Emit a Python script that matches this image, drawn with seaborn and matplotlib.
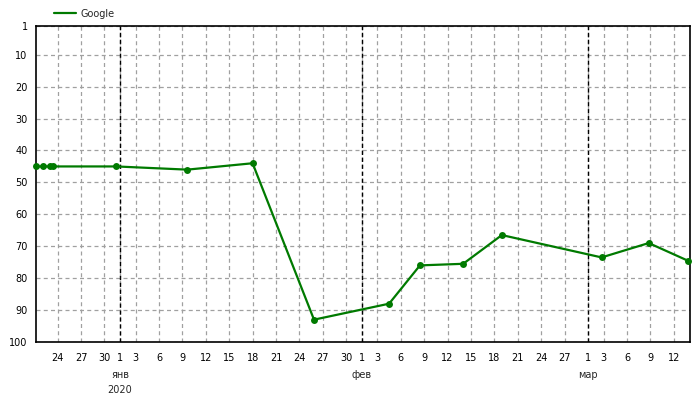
import pandas as pd
import numpy as np
import matplotlib
matplotlib.use('Agg')
import matplotlib.pyplot as plt
import seaborn as sns

# data (rank positions, lower is better)
dates = ['2019-12-21 06:00', '2019-12-22 02:00', '2019-12-23 00:00', '2019-12-23 09:00',
         '2019-12-31 12:00', '2020-01-09 15:00', '2020-01-18 00:00', '2020-01-25 21:00',
         '2020-02-04 12:00', '2020-02-08 11:00', '2020-02-14 00:00', '2020-02-18 23:00',
         '2020-03-02 18:00', '2020-03-08 19:00', '2020-03-13 19:00']
positions = [45, 45, 45, 45, 45, 46, 44, 93, 88, 76, 75.5, 66.5, 73.5, 69, 74.5]
series_name = 'Google'

tick_dates = ['2019-12-24', '2019-12-27', '2019-12-30', '2020-01-01', '2020-01-03', '2020-01-06',
              '2020-01-09', '2020-01-12', '2020-01-15', '2020-01-18', '2020-01-21', '2020-01-24',
              '2020-01-27', '2020-01-30', '2020-02-01', '2020-02-03', '2020-02-06', '2020-02-09',
              '2020-02-12', '2020-02-15', '2020-02-18', '2020-02-21', '2020-02-24', '2020-02-27',
              '2020-03-01', '2020-03-03', '2020-03-06', '2020-03-09', '2020-03-12']
tick_labels = ['24', '27', '30', '1', '3', '6', '9', '12', '15', '18', '21', '24',
               '27', '30', '1', '3', '6', '9', '12', '15', '18', '21', '24', '27',
               '1', '3', '6', '9', '12']
month_starts = ['2020-01-01', '2020-02-01', '2020-03-01']
month_labels = ['янв', 'фев', 'мар']
year_label = '2020'
y_ticks = [1, 10, 20, 30, 40, 50, 60, 70, 80, 90, 100]

df = pd.DataFrame({'date': pd.to_datetime(dates), 'pos': positions})

sns.set_style('white')
plt.rcParams['font.family'] = ['DejaVu Sans']
plt.rcParams['font.size'] = 7

fig = plt.figure(figsize=(7, 4), dpi=100)
ax = fig.add_axes([36/700, 1 - 342/400, (690-36)/700, (342-26)/400])

green = '#007a00'
sns.lineplot(data=df, x='date', y='pos', ax=ax, color=green, linewidth=1.6,
             marker='o', markersize=5, markeredgewidth=0, label=series_name, clip_on=False, zorder=5)

ax.set_xlim(pd.Timestamp('2019-12-21 05:30'), pd.Timestamp('2020-03-14 02:00'))
ax.set_ylim(100, 1)
ax.set_yticks(y_ticks)
ax.set_xticks(pd.to_datetime(tick_dates))
ax.set_xticklabels(tick_labels)
ax.tick_params(axis='both', length=0, labelsize=7, colors='black')
ax.tick_params(axis='x', pad=8)
ax.tick_params(axis='y', pad=6)

# month names and year under the first day of each month
for m, lab in zip(pd.to_datetime(month_starts), month_labels):
    ax.annotate(lab, xy=(m, 0), xycoords=('data', 'axes fraction'), xytext=(0, -24),
                textcoords='offset points', ha='center', va='center', fontsize=7)
ax.annotate(year_label, xy=(pd.Timestamp(month_starts[0]), 0), xycoords=('data', 'axes fraction'),
            xytext=(0, -34.5), textcoords='offset points', ha='center', va='center', fontsize=7)

ax.grid(True, color='#a0a0a0', linestyle=(0, (3.2, 2.6)), linewidth=0.9)
for m in pd.to_datetime(month_starts):
    ax.axvline(m, color='black', linestyle=(0, (3, 2)), linewidth=1, zorder=3)

for s in ax.spines.values():
    s.set_color('black')
    s.set_linewidth(1.2)

ax.set_xlabel('')
ax.set_ylabel('')
ax.get_legend().remove()
fig.legend(loc='upper left', bbox_to_anchor=(0.065, 1.0), frameon=False, fontsize=7,
           handlelength=2.2, handletextpad=0.5)
for h in fig.legends[0].legend_handles:
    h.set_marker('')

fig.savefig('out.png', dpi=100)
